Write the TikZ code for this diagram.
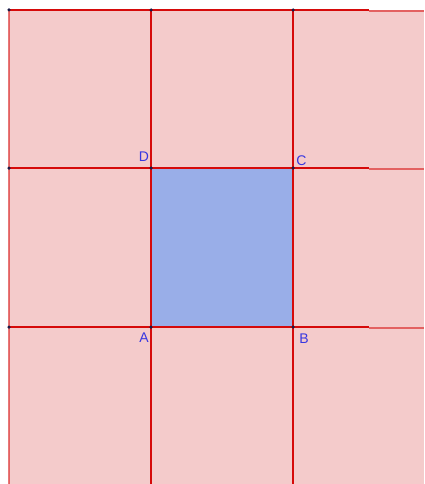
\documentclass[tikz,border=0pt]{standalone}
\usepackage{fontspec}
\setmainfont{Liberation Sans}
\definecolor{tilepink}{RGB}{244,203,203}
\definecolor{squareblue}{RGB}{153,174,232}
\definecolor{gridred}{RGB}{214,10,10}
\definecolor{ptblue}{RGB}{55,55,225}
\definecolor{ptdark}{RGB}{25,25,70}
\tikzset{
    gridline/.style={gridred,line width=2.6pt},
    faded/.style={gridred,line width=1.8pt,opacity=0.55},
    vertex/.style={circle,fill=ptdark,inner sep=0pt,minimum size=3.5pt},
    ptlabel/.style={text=ptblue,font=\fontsize{14}{14}\selectfont,inner sep=0pt}
}
\def\xl{9}
\def\xm{151}
\def\xr{293}
\def\yt{10}
\def\ym{168}
\def\yb{327}

\begin{document}
\begin{tikzpicture}[x=1pt,y=-1pt]
  \useasboundingbox (0,0) rectangle (424,484);
  % Tiles
  \fill[tilepink] (\xl,\yt) rectangle (424,484);
  \coordinate (A) at (\xm,\yb);
  \coordinate (B) at (\xr,\yb);
  \coordinate (C) at (\xr,\ym);
  \coordinate (D) at (\xm,\ym);
  \fill[squareblue] (A) -- (B) -- (C) -- (D) -- cycle;

  % Grid lines
  \foreach \y in {\yt,\ym,\yb} {
    \draw[gridline] (\xl,\y) -- (369,\y);
    \draw[faded] (369,\y+1) -- (424,\y+1);
  }
  \draw[faded] (\xl,\yt) -- (\xl,484);
  \foreach \x in {\xm,\xr}
    \draw[gridline] (\x,\yt) -- (\x,484);

  % Vertices
  \foreach \x in {\xl,\xm,\xr}
    \foreach \y in {\yt,\ym,\yb}
      \node[vertex] at (\x,\y) {};
  \node[ptlabel] (labA) at (144,338) {A};
  \node[ptlabel] (labB) at (304,338.5) {B};
  \node[ptlabel] (labC) at (301.5,160.5) {C};
  \node[ptlabel] (labD) at (144,157) {D};
\end{tikzpicture}
\end{document}
